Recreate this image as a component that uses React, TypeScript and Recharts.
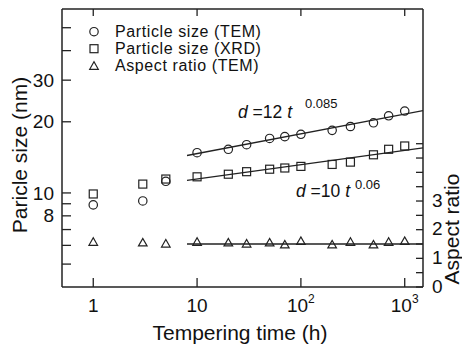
import { ComposedChart, XAxis, YAxis, Scatter, Line } from 'recharts'

// tempering time (h)
const times = [1, 3, 5, 10, 20, 30, 50, 70, 100, 200, 300, 500, 700, 1000]
// particle size (nm)
const temSize = [8.9, 9.25, 11.2, 14.8, 15.3, 16.0, 17.0, 17.3, 17.7, 18.4, 19.1, 19.8, 21.2, 22.2]
const xrdSize = [9.9, 10.9, 11.45, 11.7, 12.0, 12.3, 12.6, 12.75, 12.95, 13.2, 13.5, 14.5, 15.3, 15.8]
// aspect ratio
const aspectRatio = [1.58, 1.56, 1.52, 1.58, 1.56, 1.52, 1.56, 1.49, 1.61, 1.49, 1.58, 1.49, 1.58, 1.61]

// fitted lines, end points
const fitTimes = [8, 1500]
const temFit = [14.4, 22.3]
const xrdFit = [11.3, 15.5]
const aspectFit = [1.5, 1.5]

const xTicks = [1, 10, 100, 1000]
const sizeTicks = [5, 6, 7, 8, 9, 10, 20, 30, 40, 50]
const sizeLabels = [8, 10, 20, 30]
const ratioTicks = [0, 0.5, 1, 1.5, 2, 2.5, 3, 3.5, 4, 4.5, 5]
const ratioLabels = [0, 1, 2, 3]

const legendLabels = ['Particle size (TEM)', 'Particle size (XRD)', 'Aspect ratio (TEM)']
const legendMarkers = ['circle', 'square', 'triangle']

const INK = '#222'
const FONT = '"Liberation Sans", Arial, sans-serif'

const toPoints = (xs: number[], ys: number[]) => xs.map((t, i) => ({ t, v: ys[i] }))

function Marker({ kind, cx, cy }: { kind: string; cx: number; cy: number }) {
  const common = { fill: 'none', stroke: INK, strokeWidth: 1.2 }
  if (kind === 'square') return <rect x={cx - 4} y={cy - 4} width={8} height={8} {...common} />
  if (kind === 'triangle')
    return <polygon points={`${cx - 4.3},${cy + 3.6} ${cx + 4.3},${cy + 3.6} ${cx},${cy - 3.9}`} {...common} />
  return <circle cx={cx} cy={cy} r={4.2} {...common} />
}

const shapeFor = (kind: string) => (p: any) => <Marker kind={kind} cx={p.cx} cy={p.cy} />

function BottomTick(props: any) {
  const { x, y, payload } = props
  const v = payload.value
  const exp = Math.round(Math.log10(v))
  return (
    <g>
      <line x1={x} x2={x} y1={y} y2={y - 9} stroke={INK} strokeWidth={1.3} />
      <text x={x} y={y + 25} textAnchor="middle" fontSize={19} fontFamily={FONT} fill="#111">
        {exp < 2 ? String(v) : '10'}
        {exp >= 2 && (
          <tspan dy={-9} fontSize={12}>
            {exp}
          </tspan>
        )}
      </text>
    </g>
  )
}

function TopTick(props: any) {
  const { x, y } = props
  return <line x1={x} x2={x} y1={y} y2={y + 7} stroke={INK} strokeWidth={1.3} />
}

function LeftTick(props: any) {
  const { x, y, payload } = props
  const v = payload.value
  return (
    <g>
      <line x1={x + 8} x2={x + 17} y1={y} y2={y} stroke={INK} strokeWidth={1.3} />
      {sizeLabels.includes(v) && (
        <text x={x} y={y} dy="0.35em" textAnchor="end" fontSize={19} fontFamily={FONT} fill="#111">
          {v}
        </text>
      )}
    </g>
  )
}

function RightTick(props: any) {
  const { x, y, payload } = props
  const v = payload.value
  return (
    <g>
      <line x1={x - 9} x2={x - 16} y1={y} y2={y} stroke={INK} strokeWidth={1.3} />
      {ratioLabels.includes(v) && (
        <text x={x} y={y} dy="0.3em" textAnchor="start" fontSize={19} fontFamily={FONT} fill="#111">
          {v}
        </text>
      )}
    </g>
  )
}

export default function App() {
  const tem = toPoints(times, temSize)
  const xrd = toPoints(times, xrdSize)
  const ar = toPoints(times, aspectRatio)
  const axisLine = { stroke: INK, strokeWidth: 1.5 }

  return (
    <div style={{ position: 'fixed', left: 0, top: 0, width: 462, height: 344, background: '#fff' }}>
      <ComposedChart width={462} height={344} margin={{ top: 0, right: 0, bottom: 0, left: 0 }}>
        <XAxis
          dataKey="t"
          type="number"
          scale="log"
          domain={[0.5, 1500]}
          allowDataOverflow
          ticks={xTicks}
          interval={0}
          height={57}
          tickSize={0}
          tickMargin={0}
          tickLine={false}
          axisLine={axisLine}
          tick={BottomTick}
        />
        <XAxis
          xAxisId="top"
          dataKey="t"
          type="number"
          scale="log"
          domain={[0.5, 1500]}
          allowDataOverflow
          orientation="top"
          ticks={xTicks}
          interval={0}
          height={9}
          tickSize={0}
          tickMargin={0}
          tickLine={false}
          axisLine={axisLine}
          tick={TopTick}
        />
        <YAxis
          type="number"
          scale="log"
          domain={[4, 60]}
          allowDataOverflow
          ticks={sizeTicks}
          interval={0}
          width={62}
          tickSize={0}
          tickMargin={8}
          tickLine={false}
          axisLine={axisLine}
          tick={LeftTick}
        />
        <YAxis
          yAxisId="ar"
          orientation="right"
          type="number"
          domain={[0, 9.7]}
          allowDataOverflow
          ticks={ratioTicks}
          interval={0}
          width={39}
          tickSize={0}
          tickMargin={9}
          tickLine={false}
          axisLine={axisLine}
          tick={RightTick}
        />
        <Line data={toPoints(fitTimes, temFit)} dataKey="v" type="linear" stroke={INK} strokeWidth={1.3} dot={false} isAnimationActive={false} />
        <Line data={toPoints(fitTimes, xrdFit)} dataKey="v" type="linear" stroke={INK} strokeWidth={1.3} dot={false} isAnimationActive={false} />
        <Line yAxisId="ar" data={toPoints(fitTimes, aspectFit)} dataKey="v" type="linear" stroke={INK} strokeWidth={1.3} dot={false} isAnimationActive={false} />
        <Scatter data={tem} dataKey="v" shape={shapeFor('circle')} isAnimationActive={false} />
        <Scatter data={xrd} dataKey="v" shape={shapeFor('square')} isAnimationActive={false} />
        <Scatter yAxisId="ar" data={ar} dataKey="v" shape={shapeFor('triangle')} isAnimationActive={false} />
      </ComposedChart>

      <svg width={462} height={344} style={{ position: 'absolute', left: 0, top: 0, pointerEvents: 'none' }}>
        {/* legend */}
        {legendLabels.map((label, i) => (
          <g key={label}>
            <Marker kind={legendMarkers[i]} cx={94} cy={31.7 + i * 17} />
            <text x={115} y={31.7 + i * 17} dy="0.36em" fontSize={16} letterSpacing={0.6} fontFamily={FONT} fill="#111">
              {label}
            </text>
          </g>
        ))}

        {/* fit equations */}
        <text x={238} y={118} fontSize={17.5} fontFamily={FONT} fill="#111">
          <tspan fontStyle="italic">d</tspan> =12 <tspan fontStyle="italic">t</tspan>
        </text>
        <text x={305} y={108} fontSize={13} fontFamily={FONT} fill="#111">0.085</text>
        <text x={296} y={197} fontSize={17.5} fontFamily={FONT} fill="#111">
          <tspan fontStyle="italic">d</tspan> =10 <tspan fontStyle="italic">t</tspan>
        </text>
        <text x={355} y={189} fontSize={13} fontFamily={FONT} fill="#111">0.06</text>

        {/* axis titles */}
        <text x={240} y={340} textAnchor="middle" fontSize={21} fontFamily={FONT} fill="#111">
          Tempering time (h)
        </text>
        <text x={27} y={155} transform="rotate(-90 27 155)" textAnchor="middle" fontSize={21} fontFamily={FONT} fill="#111">
          Paricle size (nm)
        </text>
        <text x={459} y={229} transform="rotate(-90 459 229)" textAnchor="middle" fontSize={21} fontFamily={FONT} fill="#111">
          Aspect ratio
        </text>
      </svg>
    </div>
  )
}
